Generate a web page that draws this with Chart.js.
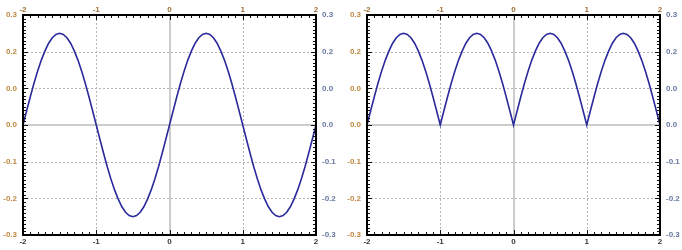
<!DOCTYPE html>
<html><head><meta charset="utf-8">
<script src="https://cdn.jsdelivr.net/npm/chart.js@4"></script>
<style>
html,body{margin:0;padding:0;background:#fff;width:682px;height:250px;overflow:hidden}
.c{position:absolute;top:0;width:341px;height:250px}
</style></head><body>
<div class="c" style="left:0"><canvas id="a" width="341" height="250"></canvas></div>
<div class="c" style="left:341px"><canvas id="b" width="341" height="250"></canvas></div>
<script>
const xValues = [
-2,-1.95,-1.9,-1.85,-1.8,-1.75,-1.7,-1.65,-1.6,-1.55,-1.5,-1.45,-1.4,-1.35,-1.3,-1.25,-1.2,-1.15,-1.1,-1.05,
-1,-0.95,-0.9,-0.85,-0.8,-0.75,-0.7,-0.65,-0.6,-0.55,-0.5,-0.45,-0.4,-0.35,-0.3,-0.25,-0.2,-0.15,-0.1,-0.05,
0,0.05,0.1,0.15,0.2,0.25,0.3,0.35,0.4,0.45,0.5,0.55,0.6,0.65,0.7,0.75,0.8,0.85,0.9,0.95,
1,1.05,1.1,1.15,1.2,1.25,1.3,1.35,1.4,1.45,1.5,1.55,1.6,1.65,1.7,1.75,1.8,1.85,1.9,1.95,2];

const leftValues = [
0,0.039,0.077,0.114,0.147,0.177,0.202,0.223,0.238,0.247,0.25,0.247,0.238,0.223,0.202,0.177,0.147,0.114,0.077,0.039,
0,-0.039,-0.077,-0.114,-0.147,-0.177,-0.202,-0.223,-0.238,-0.247,-0.25,-0.247,-0.238,-0.223,-0.202,-0.177,-0.147,-0.114,-0.077,-0.039,
0,0.039,0.077,0.114,0.147,0.177,0.202,0.223,0.238,0.247,0.25,0.247,0.238,0.223,0.202,0.177,0.147,0.114,0.077,0.039,
0,-0.039,-0.077,-0.114,-0.147,-0.177,-0.202,-0.223,-0.238,-0.247,-0.25,-0.247,-0.238,-0.223,-0.202,-0.177,-0.147,-0.114,-0.077,-0.039,
0];

const rightValues = [
0,0.039,0.077,0.114,0.147,0.177,0.202,0.223,0.238,0.247,0.25,0.247,0.238,0.223,0.202,0.177,0.147,0.114,0.077,0.039,
0,0.039,0.077,0.114,0.147,0.177,0.202,0.223,0.238,0.247,0.25,0.247,0.238,0.223,0.202,0.177,0.147,0.114,0.077,0.039,
0,0.039,0.077,0.114,0.147,0.177,0.202,0.223,0.238,0.247,0.25,0.247,0.238,0.223,0.202,0.177,0.147,0.114,0.077,0.039,
0,0.039,0.077,0.114,0.147,0.177,0.202,0.223,0.238,0.247,0.25,0.247,0.238,0.223,0.202,0.177,0.147,0.114,0.077,0.039,
0];

const xTickLabels = ['-2','-1','0','1','2'];
const yTickLabels = ['-0.3','-0.2','-0.1','0.0','0.0','0.2','0.3'];

const FONT = {family:'Liberation Sans, Arial, sans-serif', size:8, weight:'bold'};

const deco = {
  id:'deco',
  beforeDatasetsDraw(chart){
    const {ctx, chartArea:a} = chart;
    const x = chart.scales.x, y = chart.scales.y;
    ctx.save();
    ctx.strokeStyle = '#b4b4b4'; ctx.lineWidth = 1; ctx.setLineDash([2,2]);
    [-1,1].forEach(v=>{
      const p = Math.round(x.getPixelForValue(v)) + 0.5;
      ctx.beginPath(); ctx.moveTo(p,a.top); ctx.lineTo(p,a.bottom); ctx.stroke();
    });
    [-0.2,-0.1,0.1,0.2].forEach(v=>{
      const p = Math.round(y.getPixelForValue(v)) + 0.5;
      ctx.beginPath(); ctx.moveTo(a.left,p); ctx.lineTo(a.right,p); ctx.stroke();
    });
    ctx.setLineDash([]); ctx.strokeStyle = '#cccccc'; ctx.lineWidth = 2;
    const x0 = Math.round(x.getPixelForValue(0));
    ctx.beginPath(); ctx.moveTo(x0,a.top); ctx.lineTo(x0,a.bottom); ctx.stroke();
    const y0 = Math.round(y.getPixelForValue(0));
    ctx.beginPath(); ctx.moveTo(a.left,y0); ctx.lineTo(a.right,y0); ctx.stroke();
    ctx.restore();
  },
  afterDatasetsDraw(chart){
    const {ctx, chartArea:a} = chart;
    const x = chart.scales.x, y = chart.scales.y;
    ctx.save();
    ctx.strokeStyle = '#111'; ctx.lineWidth = 1;
    for (let i=-20;i<=20;i++){
      const p = Math.round(x.getPixelForValue(i/10)) + 0.5;
      const len = (i%10===0) ? 5 : 3;
      ctx.beginPath();
      ctx.moveTo(p,a.top); ctx.lineTo(p,a.top+len);
      ctx.moveTo(p,a.bottom); ctx.lineTo(p,a.bottom-len);
      ctx.stroke();
    }
    for (let i=-30;i<=30;i++){
      const p = Math.round(y.getPixelForValue(i/100)) + 0.5;
      const len = (i%10===0) ? 5 : 3;
      ctx.beginPath();
      ctx.moveTo(a.left,p); ctx.lineTo(a.left+len,p);
      ctx.moveTo(a.right,p); ctx.lineTo(a.right-len,p);
      ctx.stroke();
    }
    ctx.strokeStyle = '#000'; ctx.lineWidth = 2;
    ctx.strokeRect(Math.round(a.left), Math.round(a.top), Math.round(a.right-a.left), Math.round(a.bottom-a.top));
    ctx.restore();
  }
};

function yLabel(v){ return yTickLabels[Math.round((v+0.3)*10)]; }
function xLabel(v){ return xTickLabels[Math.round(v+2)]; }

function makeChart(id, values, leftW, rightW){
  const common = {grid:{display:false, drawTicks:false}, border:{display:false}};
  new Chart(document.getElementById(id), {
    type:'line',
    data:{datasets:[{
      data: xValues.map((xv,i)=>({x:xv, y:values[i]})),
      borderColor:'#2a2a9c', borderWidth:1.6, pointRadius:0, tension:0, fill:false
    }]},
    options:{
      responsive:false, animation:false, devicePixelRatio:1,
      layout:{padding:0},
      plugins:{legend:{display:false}, tooltip:{enabled:false}},
      scales:{
        x:{type:'linear', position:'bottom', min:-2, max:2, ...common,
           ticks:{stepSize:1, font:FONT, color:'#3a3a3a', padding:2, maxRotation:0, callback:xLabel},
           afterFit:s=>{s.height=15;}},
        x2:{type:'linear', position:'top', min:-2, max:2, ...common,
           ticks:{stepSize:1, font:FONT, color:'#a0703a', padding:0, maxRotation:0, callback:xLabel},
           afterFit:s=>{s.height=15;}},
        y:{type:'linear', position:'left', min:-0.3, max:0.3, ...common,
           ticks:{stepSize:0.1, font:FONT, color:'#c08840', padding:6, callback:yLabel},
           afterFit:s=>{s.width=leftW;}},
        y2:{type:'linear', position:'right', min:-0.3, max:0.3, ...common,
           ticks:{stepSize:0.1, font:FONT, color:'#6878a0', padding:6, callback:yLabel},
           afterFit:s=>{s.width=rightW;}}
      }
    },
    plugins:[deco]
  });
}
makeChart('a', leftValues, 23, 25);
makeChart('b', rightValues, 26, 22);
</script>
</body></html>
